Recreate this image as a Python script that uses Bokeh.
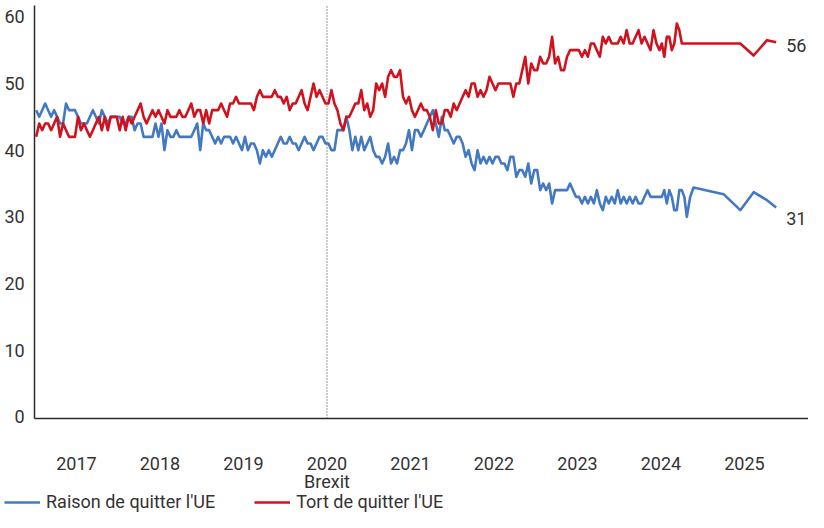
import numpy as np
from bokeh.plotting import figure
from bokeh.models import Range1d, FixedTicker, Label, Legend, LegendItem
from bokeh.embed import file_html
from bokeh.resources import INLINE

# ---------------- data ----------------
years = [2017, 2018, 2019, 2020, 2021, 2022, 2023, 2024, 2025]
year_labels = ["2017", "2018", "2019", "2020", "2021", "2022", "2023", "2024", "2025"]
y_ticks = [0, 10, 20, 30, 40, 50, 60]
brexit_year = 2020.0
brexit_label = "Brexit"

series_names = ["Raison de quitter l'UE", "Tort de quitter l'UE"]

# survey values (%) per calendar year (surveys spread through the year)
raison_2016 = [46, 45, 46, 47, 46, 45, 46, 45, 44, 44, 47, 46, 46, 46]
tort_2016 = [42, 44, 43, 44, 44, 43, 44, 45, 42, 44, 43, 42, 42, 42]
raison_2017 = [45, 44, 44, 44, 45, 46, 45, 44, 46, 45, 44, 45, 45, 45, 45, 44, 44, 45, 45, 43, 44, 44, 42, 42, 42, 42, 44, 42]
tort_2017 = [45, 43, 44, 43, 42, 43, 44, 45, 43, 45, 43, 45, 45, 45, 43, 45, 43, 45, 44, 45, 46, 47, 45, 44, 45, 46, 45, 46]
raison_2018 = [44, 40, 43, 42, 42, 43, 42, 42, 42, 42, 42, 43, 44, 40, 44, 43, 43, 42, 41, 42, 41, 42, 42, 42, 41, 42, 41, 40]
tort_2018 = [45, 44, 46, 45, 45, 45, 46, 45, 45, 46, 47, 45, 46, 46, 44, 46, 44, 46, 46, 46, 47, 46, 45, 47, 47, 48, 47, 47]
raison_2019 = [42, 40, 41, 41, 40, 38, 40, 39, 40, 39, 40, 41, 42, 41, 41, 42, 41, 41, 40, 41, 42, 41, 41, 40, 41, 42, 42, 41]
tort_2019 = [47, 47, 47, 46, 48, 49, 48, 48, 48, 48, 49, 48, 48, 47, 48, 46, 47, 47, 48, 49, 47, 46, 48, 50, 48, 49, 48, 47]
raison_2020 = [41, 40, 40, 43, 43, 43, 45, 43, 40, 42, 40, 42, 40, 41, 42, 40, 39, 39, 38, 39, 41, 38, 39, 38, 40, 40, 41, 43]
tort_2020 = [47, 49, 47, 46, 44, 43, 45, 45, 46, 47, 47, 49, 46, 47, 45, 46, 50, 49, 50, 48, 51, 52, 51, 51, 52, 48, 47, 48]
raison_2021 = [40, 43, 43, 42, 43, 44, 45, 46, 44, 42, 45, 43, 43, 42, 41, 42, 42, 41, 39, 40, 38, 37, 40, 38, 39, 38, 39, 38]
tort_2021 = [46, 45, 46, 47, 46, 46, 45, 43, 46, 44, 44, 46, 46, 45, 47, 46, 47, 48, 49, 48, 50, 50, 48, 49, 48, 49, 51, 50]
raison_2022 = [39, 39, 38, 38, 37, 39, 39, 36, 37, 37, 36, 38, 35, 37, 37, 34, 35, 34, 35, 32, 34, 34, 34, 34, 34, 35, 34, 33]
tort_2022 = [49, 50, 50, 50, 50, 50, 48, 50, 50, 52, 54, 50, 53, 52, 52, 54, 53, 53, 54, 57, 53, 54, 52, 52, 54, 55, 55, 55]
raison_2023 = [33, 32, 33, 32, 33, 32, 34, 32, 31, 33, 32, 33, 32, 34, 32, 33, 32, 33, 32, 33, 32, 32, 33, 34, 33, 33, 33, 33]
tort_2023 = [55, 54, 55, 54, 56, 56, 55, 54, 57, 56, 57, 56, 56, 56, 57, 56, 58, 56, 56, 57, 58, 56, 57, 56, 55, 58, 56, 55]

# 2024 onwards: explicit survey dates (decimal years)
tail_dates = [2024.01, 2024.04, 2024.07, 2024.10, 2024.13, 2024.16, 2024.19, 2024.22, 2024.25,
              2024.28, 2024.31, 2024.35, 2024.39, 2024.75, 2024.95, 2025.11, 2025.27, 2025.38]
raison_tail = [33, 34, 32, 34, 33, 31, 31, 34, 34, 33, 30, 33, 34.4, 33.4, 31, 33.7, 32.5, 31.4]
tort_tail = [56, 54, 57, 57, 55, 56, 59, 58, 56, 56, 56, 56, 56, 56, 56, 54.2, 56.5, 56.2]

first_survey = 2016.5

raison_years = {2016: raison_2016, 2017: raison_2017, 2018: raison_2018, 2019: raison_2019,
                2020: raison_2020, 2021: raison_2021, 2022: raison_2022, 2023: raison_2023}
tort_years = {2016: tort_2016, 2017: tort_2017, 2018: tort_2018, 2019: tort_2019,
              2020: tort_2020, 2021: tort_2021, 2022: tort_2022, 2023: tort_2023}


def build(by_year, tail_vals):
    xs, ys = [], []
    for yr in sorted(by_year):
        vals = by_year[yr]
        start = first_survey if yr == 2016 else yr
        end = yr + 1
        n = len(vals)
        for i, v in enumerate(vals):
            xs.append(start + (i + 0.5) * (end - start) / n)
            ys.append(v)
    xs += tail_dates
    ys += tail_vals
    return xs, ys


rx, ry = build(raison_years, raison_tail)
tx, ty = build(tort_years, tort_tail)

# ---------------- style ----------------
BLUE = "#4479C2"
RED = "#D0121E"
TXT = "#333333"
AXC = "#2b2b2b"
FONT = "Roboto"
FS = "18px"

W, H = 808, 512
X0, X1 = 2016.09, 2025.767          # whole canvas in data units
Y0, Y1 = -14.35, 62.45
AX_X = first_survey                 # where the value axis stands
AX_Y = -0.25                        # where the time axis stands
Y_TOP = 61.7

p = figure(width=W, height=H, output_backend="svg", toolbar_location=None,
           x_range=Range1d(X0, X1), y_range=Range1d(Y0, Y1),
           min_border_left=0, min_border_right=0, min_border_top=0, min_border_bottom=0)
p.outline_line_color = None
p.background_fill_color = "white"
p.border_fill_color = "white"
p.xgrid.grid_line_color = None
p.ygrid.grid_line_color = None

for ax in (p.xaxis[0], p.yaxis[0]):
    ax.axis_line_color = AXC
    ax.axis_line_width = 1.5
    ax.major_tick_line_color = None
    ax.minor_tick_line_color = None
    ax.major_tick_out = 0
    ax.major_tick_in = 0
    ax.major_label_text_font = FONT
    ax.major_label_text_font_size = FS
    ax.major_label_text_color = TXT

p.xaxis.ticker = FixedTicker(ticks=years)
p.xaxis.major_label_overrides = {y: lab for y, lab in zip(years, year_labels)}
p.xaxis.major_label_standoff = 38
p.xaxis.fixed_location = AX_Y
p.xaxis.bounds = (AX_X, X1)

p.yaxis.ticker = FixedTicker(ticks=y_ticks)
p.yaxis.major_label_standoff = 10
p.yaxis.fixed_location = AX_X
p.yaxis.bounds = (AX_Y, Y_TOP)

# Brexit marker
p.segment(x0=[brexit_year], y0=[AX_Y], x1=[brexit_year], y1=[Y_TOP],
          line_color="#333333", line_width=1, line_dash="1 2")

rb = p.line(rx, ry, line_color=BLUE, line_width=2.6, line_join="round")
rt = p.line(tx, ty, line_color=RED, line_width=2.6, line_join="round")

p.add_layout(Label(x=brexit_year, y=-9.7, text=brexit_label, text_align="center",
                   text_baseline="middle", text_font=FONT, text_font_size=FS, text_color=TXT))
p.add_layout(Label(x=tx[-1], y=ty[-1], text=f"{ty[-1]:.0f}", x_offset=10, y_offset=-3,
                   text_align="left", text_baseline="middle", text_font=FONT,
                   text_font_size=FS, text_color=TXT))
p.add_layout(Label(x=rx[-1], y=ry[-1], text=f"{ry[-1]:.0f}", x_offset=10, y_offset=-11,
                   text_align="left", text_baseline="middle", text_font=FONT,
                   text_font_size=FS, text_color=TXT))

legend = Legend(items=[LegendItem(label=series_names[0], renderers=[rb]),
                       LegendItem(label=series_names[1], renderers=[rt])],
                location=(4, 0), orientation="horizontal",
                glyph_width=36, glyph_height=18, label_standoff=6, spacing=39,
                padding=0, margin=0, border_line_color=None, background_fill_alpha=0,
                label_text_font=FONT, label_text_font_size=FS, label_text_color=TXT)
p.add_layout(legend)

open("out.html", "w").write(file_html(p, INLINE))
